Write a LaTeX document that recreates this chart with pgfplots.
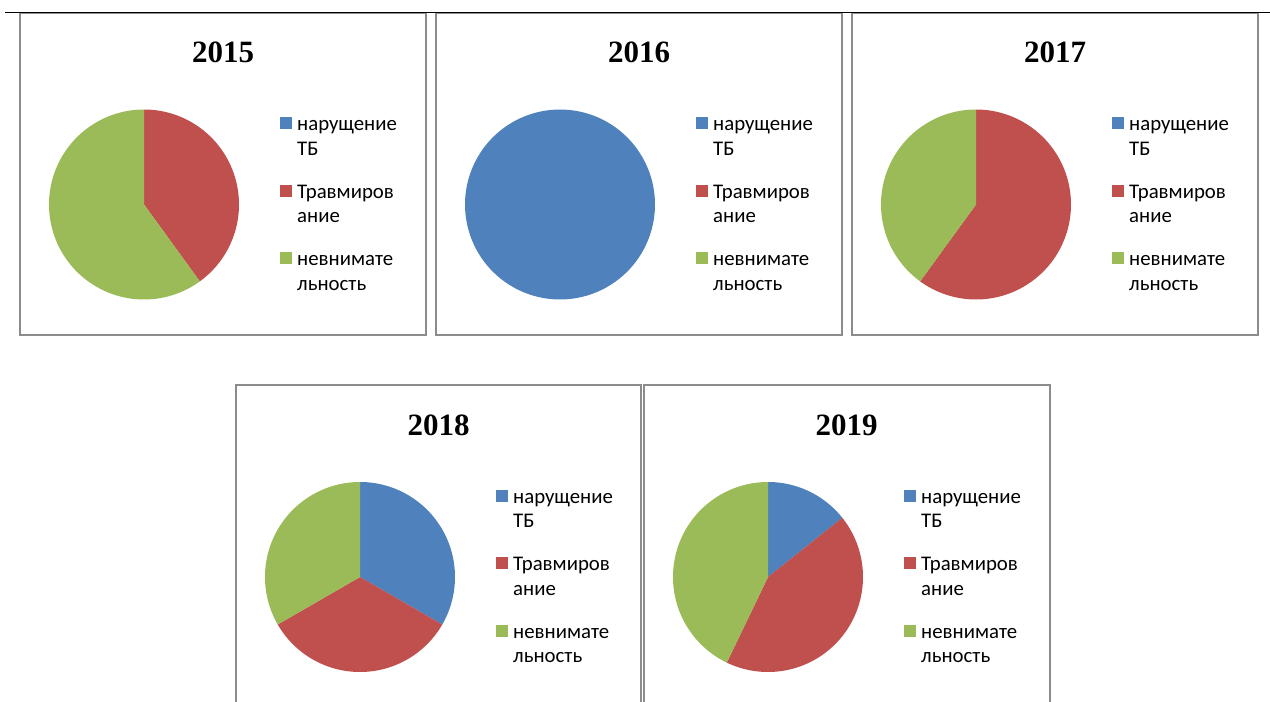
\documentclass[border=0pt]{standalone}
\usepackage{fontspec}
\setmainfont{Liberation Serif}
\newfontfamily\legfont{Carlito}
\usepackage{pgfplots}
\usepackage{pgfplotstable}
\pgfplotsset{compat=1.18}

\definecolor{cTB}{HTML}{4F81BD}
\definecolor{cTR}{HTML}{C0504D}
\definecolor{cNV}{HTML}{9BBB59}
\definecolor{frame}{HTML}{8C8C8C}

% counts per year: нарущение ТБ / Травмирование / невнимательность
\pgfplotstableread{
year tb trav nevn
2015 0 2 3
2016 1 0 0
2017 0 3 2
2018 1 1 1
2019 1 3 3
}\counts

% one sector, angles low:high (degrees)
\newcommand{\slice}[3]{%
  \addplot[draw=none, fill=#3, domain=#1:#2, samples=120, variable=\t]
    ({cos(\t)}, {sin(\t)}) -- (0,0) -- cycle;}

% pie for table row #1, centred on named coordinate #2
\newcommand{\pie}[2]{%
  \pgfplotstablegetelem{#1}{tb}\of\counts \edef\va{\pgfplotsretval}%
  \pgfplotstablegetelem{#1}{trav}\of\counts \edef\vb{\pgfplotsretval}%
  \pgfplotstablegetelem{#1}{nevn}\of\counts \edef\vc{\pgfplotsretval}%
  \pgfmathsetmacro\tot{\va+\vb+\vc}%
  \pgfmathsetmacro\aB{90-360*\va/\tot}%
  \pgfmathsetmacro\aC{\aB-360*\vb/\tot}%
  \pgfmathsetmacro\aD{\aC-360*\vc/\tot}%
  \begin{axis}[at={(#2)}, anchor=origin, scale only axis,
      width=190bp, height=190bp, xmin=-1, xmax=1, ymin=-1, ymax=1,
      hide axis, clip=false]
    \ifdim\va pt>0pt \slice{\aB}{90}{cTB}\fi
    \ifdim\vb pt>0pt \slice{\aC}{\aB}{cTR}\fi
    \ifdim\vc pt>0pt \slice{\aD}{\aC}{cNV}\fi
  \end{axis}}

\tikzset{legtext/.style={anchor=base west, inner sep=0pt,
    font=\legfont\fontsize{20.8bp}{20.8bp}\selectfont}}

% legend: square left x, first baseline y
\newcommand{\pielegend}[2]{%
  \foreach \i/\c/\la/\lb in {0/cTB/нарущение/ТБ, 1/cTR/Травмиров/ание, 2/cNV/невнимате/льность}{%
    \fill[\c] (#1,{-#2-67.5*\i+1.7}) rectangle ++(11.5,11.7);
    \node[legtext] at ({#1+17},{-#2-67.5*\i}) {\la};
    \node[legtext] at ({#1+17},{-#2-67.5*\i-24.3}) {\lb};
  }}

\newcommand{\pietitle}[3]{%
  \node[anchor=base, inner sep=0pt, font=\fontsize{31bp}{31bp}\selectfont\bfseries]
    at (#1,-#2) {#3};}

\begin{document}
\begin{tikzpicture}[x=1bp, y=1bp]
\useasboundingbox (0,0) rectangle (1270,-702);

% frames
\begin{scope}[draw=frame, line width=1.3bp]
  \draw (20,-13) rectangle (426,-335);
  \draw (436,-13) rectangle (842,-335);
  \draw (852,-13) rectangle (1258,-335);
  \draw (236,-710) -- (236,-385) -- (641,-385) -- (641,-710);
  \draw (644,-710) -- (644,-385) -- (1050,-385) -- (1050,-710);
\end{scope}
\draw[black, line width=1.6bp] (5,-12.5) -- (1270,-12.5);

\coordinate (c15) at (144,-204.5);
\coordinate (c16) at (560,-204.5);
\coordinate (c17) at (976,-204.5);
\coordinate (c18) at (360,-577);
\coordinate (c19) at (768,-577);

\pie{0}{c15}
\pie{1}{c16}
\pie{2}{c17}
\pie{3}{c18}
\pie{4}{c19}

\pietitle{223}{63}{2015}
\pietitle{639}{63}{2016}
\pietitle{1055}{63}{2017}
\pietitle{438.5}{435}{2018}
\pietitle{846.5}{435}{2019}

\pielegend{280}{130.8}
\pielegend{696}{130.8}
\pielegend{1112}{130.8}
\pielegend{496}{503.3}
\pielegend{904}{503.3}
\end{tikzpicture}
\end{document}
